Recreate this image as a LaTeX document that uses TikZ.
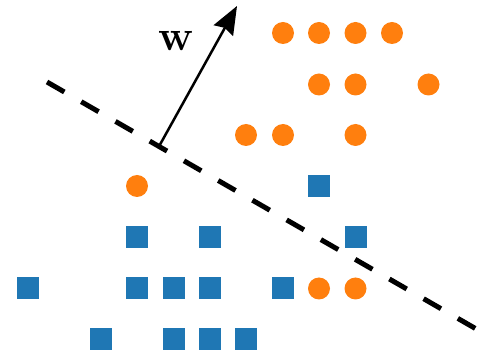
\documentclass[tikz,border=0pt]{standalone}
\usetikzlibrary{arrows.meta}
\definecolor{mplorange}{HTML}{FF7F0E}
\definecolor{mplblue}{HTML}{1F77B4}
\tikzset{
  dot/.style={circle, fill=mplorange, draw=none, minimum size=22pt, inner sep=0pt},
  sq/.style={rectangle, fill=mplblue, draw=none, minimum size=22pt, inner sep=0pt},
  sep/.style={line width=5pt, dash pattern=on 20pt off 19.5pt},
  wvec/.style={line width=2.5pt, -{Stealth[length=28pt, width=22pt, inset=3pt]}}
}
\begin{document}
\begin{tikzpicture}[x=1pt, y=-1pt]
\useasboundingbox (0,0) rectangle (499,358);
% orange circles
\node[dot] (o1) at (283,33) {};
\node[dot] (o2) at (319,33) {};
\node[dot] (o3) at (355.5,33) {};
\node[dot] (o4) at (392,33) {};
\node[dot] (o5) at (319,84.5) {};
\node[dot] (o6) at (355.5,84.5) {};
\node[dot] (o7) at (428.5,84.5) {};
\node[dot] (o8) at (246,135) {};
\node[dot] (o9) at (283,135) {};
\node[dot] (o10) at (355.5,135) {};
\node[dot] (o11) at (137,186) {};
\node[dot] (o12) at (319,288.5) {};
\node[dot] (o13) at (355.5,288.5) {};
% blue squares
\node[sq] (b1) at (319,186) {};
\node[sq] (b2) at (137,237) {};
\node[sq] (b3) at (210,237) {};
\node[sq] (b4) at (355.5,237) {};
\node[sq] (b5) at (28,288.5) {};
\node[sq] (b6) at (137,288.5) {};
\node[sq] (b7) at (173.5,288.5) {};
\node[sq] (b8) at (210,288.5) {};
\node[sq] (b9) at (283,288.5) {};
\node[sq] (b10) at (101,339.5) {};
\node[sq] (b11) at (173.5,339.5) {};
\node[sq] (b12) at (210,339.5) {};
\node[sq] (b13) at (246,339.5) {};
% separating line
\coordinate (l1) at (47,82);
\coordinate (l2) at (478,330);
\draw[sep] (l1) -- (l2);
% normal vector
\coordinate (a0) at (159,146.4);
\coordinate (a1) at (237,6);
\draw[wvec] (a0) -- (a1);
\node[inner sep=0pt] (w) at (175.5,41) {\fontsize{43}{43}\selectfont\bfseries w};
\end{tikzpicture}
\end{document}
